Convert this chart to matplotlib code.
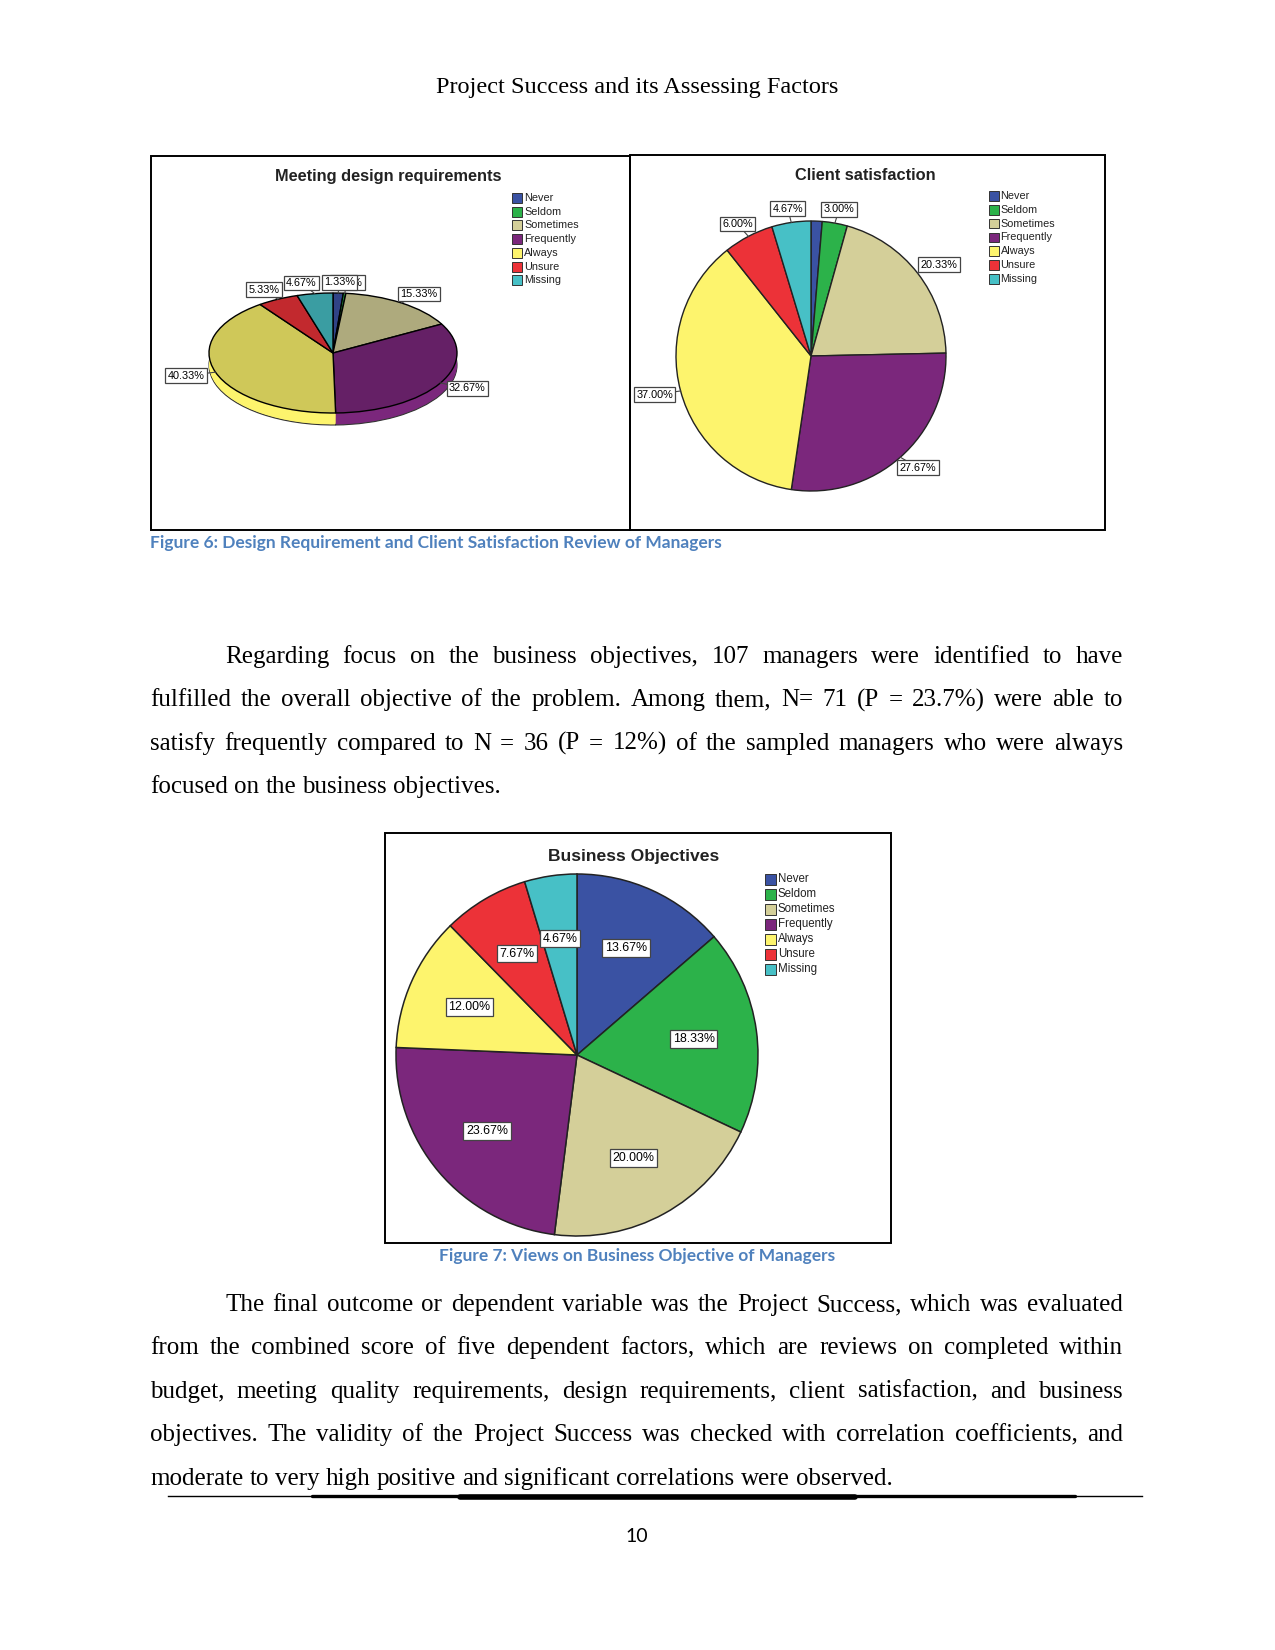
import numpy as np
import matplotlib
matplotlib.use('Agg')
import matplotlib.pyplot as plt
from matplotlib.patches import Rectangle
from matplotlib.colors import to_rgb

W, H = 1275, 1650

categories = ['Never', 'Seldom', 'Sometimes', 'Frequently', 'Always', 'Unsure', 'Missing']
colors = ['#3a52a3', '#2cb24a', '#d4cf99', '#7b277c', '#fdf46d', '#ec3238', '#47c0c6']

# percentages
design_pct = [1.33, 0.33, 15.33, 32.67, 40.33, 5.33, 4.67]
client_pct = [1.33, 3.00, 20.33, 27.67, 37.00, 6.00, 4.67]
business_pct = [13.67, 18.33, 20.00, 23.67, 12.00, 7.67, 4.67]
design_behind = [False, True, False, False, False, False, False]   # label hidden under a neighbour
client_shown = [False, True, True, True, True, True, True]

header = 'Project Success and its Assessing Factors'
caption6 = 'Figure 6: Design Requirement and Client Satisfaction Review of Managers'
caption7 = 'Figure 7: Views on Business Objective of Managers'
para1 = [
    'Regarding focus on the business objectives, 107 managers were identified to have',
    'fulfilled the overall objective of the problem. Among them, N= 71 (P = 23.7%) were able to',
    'satisfy frequently compared to N = 36 (P = 12%) of the sampled managers who were always',
    'focused on the business objectives.',
]
para2 = [
    'The final outcome or dependent variable was the Project Success, which was evaluated',
    'from the combined score of  five dependent factors, which are reviews on completed within',
    'budget, meeting quality requirements, design requirements, client satisfaction, and business',
    'objectives.  The validity of the Project Success was checked with correlation coefficients, and',
    'moderate to very high positive and significant correlations were observed.',
]
page_no = '10'

SANS = 'Liberation Sans'
SERIF = 'Liberation Serif'
CAP_COLOR = '#4f81bd'

fig = plt.figure(figsize=(W / 100, H / 100), dpi=100)
page = fig.add_axes([0, 0, 1, 1])
page.set_xlim(0, W)
page.set_ylim(H, 0)
page.axis('off')


def pie_axes(box, centre, rx, ry):
    # axes over a chart box, data units = pie radius in x and y
    x0, y0, x1, y1 = box
    ax = fig.add_axes([x0 / W, 1 - y1 / H, (x1 - x0) / W, (y1 - y0) / H])
    ax.patch.set_alpha(0)
    lims = ((x0 - centre[0]) / rx, (x1 - centre[0]) / rx,
            (centre[1] - y1) / ry, (centre[1] - y0) / ry)
    return ax, lims


def finish(ax, lims):
    ax.set_xlim(lims[0], lims[1])
    ax.set_ylim(lims[2], lims[3])
    ax.set_aspect('auto')
    ax.axis('off')


def mid_angles(vals):
    a = np.array(vals) * 3.6
    ends = 90 - np.cumsum(a)
    return np.radians(ends + a / 2)


def box_label(ax, x, y, s, size, z=5):
    ax.text(x, y, s, ha='center', va='center', fontsize=size, family=SANS, zorder=z,
            bbox=dict(boxstyle='square,pad=0.22', fc='white', ec='#444444', lw=0.9))


def legend(x, y0, step, sq, size):
    for i, (c, name) in enumerate(zip(colors, categories)):
        y = y0 + i * step
        page.add_patch(Rectangle((x, y - sq / 2), sq, sq, fc=c, ec='#333333', lw=0.7))
        page.text(x + sq + 2, y, name, ha='left', va='center', fontsize=size,
                  family=SANS, color='#222222')


def shade(c, f):
    return tuple(np.array(to_rgb(c)) * f)


# ---------- chart boxes ----------
for bx in [(151, 156, 630, 530), (630, 155, 1105, 530), (385, 833, 891, 1243)]:
    page.add_patch(Rectangle((bx[0], bx[1]), bx[2] - bx[0], bx[3] - bx[1],
                             fill=False, ec='black', lw=1.4))

# ---------- Meeting design requirements (tilted pie) ----------
rx1, ry1 = 124, 60
ax1, lim1 = pie_axes((151, 156, 630, 530), (333, 353), rx1, ry1)
depth = 12 / ry1
for j, k in enumerate(np.linspace(depth, 0, 14)[:-1]):
    ax1.pie(design_pct, colors=colors, startangle=90, counterclock=False,
            center=(0, -k), wedgeprops=dict(linewidth=0.8 if j == 0 else 0,
                                            edgecolor='#333333'))
ax1.pie(design_pct, colors=[shade(c, 0.82) for c in colors], startangle=90,
        counterclock=False, wedgeprops=dict(edgecolor='black', linewidth=1))
finish(ax1, lim1)

th = mid_angles(design_pct)
lx = 1.25 * np.cos(th)
ly = 1.18 * np.sin(th)
labels1 = [f'{v:.2f}%' for v in design_pct]
half = np.array([(6.2 * len(s) + 6) / 2 for s in labels1]) / rx1
prev = None
for i in np.argsort(-lx):
    if ly[i] <= 0 or design_behind[i]:
        continue
    if prev is not None and lx[i] + half[i] > lx[prev] - half[prev]:
        lx[i] = lx[prev] - half[prev] - half[i] - 0.01
    prev = i
for i, s in enumerate(labels1):
    ax1.plot([np.cos(th[i]), lx[i]], [np.sin(th[i]), ly[i]], color='#444444', lw=0.8, zorder=3)
    box_label(ax1, lx[i], ly[i], s, 7.8, z=4 if design_behind[i] else 5)

page.text(388, 177, 'Meeting design requirements', ha='center', va='center',
          fontsize=11.8, fontweight='bold', family=SANS, color='#222222')
legend(512, 198, 13.7, 10, 7.8)

# ---------- Client satisfaction ----------
r2 = 135
ax2, lim2 = pie_axes((630, 155, 1105, 530), (811, 356), r2, r2)
ax2.pie(client_pct, colors=colors, startangle=90, counterclock=False,
        wedgeprops=dict(edgecolor='#222222', linewidth=1))
finish(ax2, lim2)
th = mid_angles(client_pct)
for i, v in enumerate(client_pct):
    if not client_shown[i]:
        continue
    s = f'{v:.2f}%'
    hw = (6.2 * len(s) + 6) / 2 / r2
    hh = 8.5 / r2
    c, sn = np.cos(th[i]), np.sin(th[i])
    x, y = 1.04 * c + hw * c, 1.04 * sn + hh * sn
    ax2.plot([c, x], [sn, y], color='#444444', lw=0.8, zorder=3)
    box_label(ax2, x, y, s, 7.8)

page.text(865, 176, 'Client satisfaction', ha='center', va='center',
          fontsize=11.8, fontweight='bold', family=SANS, color='#222222')
legend(989, 196, 13.8, 9.5, 7.8)

# ---------- Business Objectives ----------
r3 = 181
ax3, lim3 = pie_axes((385, 833, 891, 1243), (577, 1055), r3, r3)
ax3.pie(business_pct, colors=colors, startangle=90, counterclock=False,
        wedgeprops=dict(edgecolor='#222222', linewidth=1.1))
finish(ax3, lim3)
th = mid_angles(business_pct)
for i, v in enumerate(business_pct):
    box_label(ax3, 0.65 * np.cos(th[i]), 0.65 * np.sin(th[i]), f'{v:.2f}%', 8.9)

page.text(634, 857, 'Business Objectives', ha='center', va='center',
          fontsize=12.6, fontweight='bold', family=SANS, color='#222222')
legend(765, 879, 15, 11, 8.3)

# ---------- page text ----------
page.text(637, 88, header, ha='center', va='center', fontsize=17.5, family=SERIF)
page.text(150, 543, caption6, ha='left', va='center', fontsize=12.5,
          fontweight='bold', family='Lato', color=CAP_COLOR)
page.text(637, 1256, caption7, ha='center', va='center', fontsize=12.5,
          fontweight='bold', family='Lato', color=CAP_COLOR)

renderer = fig.canvas.get_renderer()


def justify(lines, y0, step, left=150, right=1123, indent=75):
    for n, line in enumerate(lines):
        words = line.split()
        x0 = left + (indent if n == 0 else 0)
        y = y0 + n * step
        texts = [page.text(0, y, w, ha='left', va='center', fontsize=18, family=SERIF)
                 for w in words]
        widths = [t.get_window_extent(renderer).width for t in texts]
        if n == len(lines) - 1:
            gap = 6.2
        else:
            gap = (right - x0 - sum(widths)) / (len(words) - 1)
        x = x0
        for t, wd in zip(texts, widths):
            t.set_x(x)
            x += wd + gap


justify(para1, 657, 43.4)
justify(para2, 1305, 43.4)

# footer rule, thicker in the middle
page.plot([168, 1142], [1496, 1496], color='black', lw=1)
page.plot([312, 1075], [1496, 1496], color='black', lw=2.4, solid_capstyle='round')
page.plot([460, 855], [1496.5, 1496.5], color='black', lw=4, solid_capstyle='round')
page.text(637, 1536, page_no, ha='center', va='center', fontsize=14, family='Lato')

fig.savefig('out.png', dpi=100)
